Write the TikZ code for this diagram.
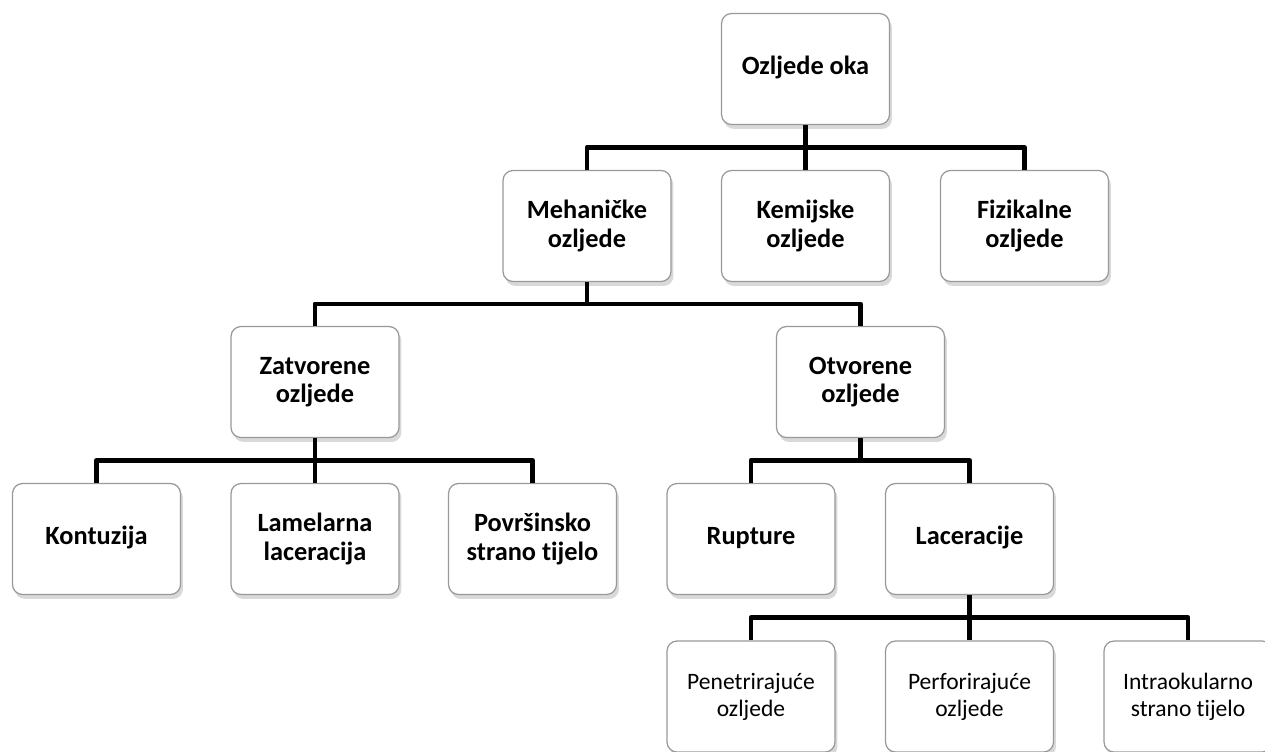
\documentclass[tikz,border=0pt]{standalone}
\usepackage{fontspec}
\setmainfont{Carlito}[Ligatures=NoCommon]
\usetikzlibrary{shadows}

\begin{document}
\begin{tikzpicture}[x=0.02cm, y=-0.02cm,
    kutija/.style={draw=gray!80, line width=0.7pt, fill=white, rounded corners=0.2cm,
        minimum width=3.36cm, minimum height=2.22cm, align=center,
        font=\fontsize{15}{16}\selectfont\bfseries,
        drop shadow={opacity=0.3, shadow xshift=0.05cm, shadow yshift=-0.09cm}},
    tanka/.style={kutija, font=\fontsize{13.4}{15.4}\selectfont},
    veza/.style={line width=2.8pt, line join=round}]
    % Okvir slike
    \useasboundingbox (0,0) rectangle (1265,751);
    \clip (0,0) rectangle (1265,751);
    % Razina 1
    \node[kutija] (oka) at (805.5,69) {Ozljede oka\strut};
    % Razina 2
    \node[kutija] (meh) at (587,226) {Mehaničke\\ozljede};
    \node[kutija] (kem) at (805.5,226) {Kemijske\\ozljede};
    \node[kutija] (fiz) at (1024.5,226) {Fizikalne\\ozljede};
    % Razina 3
    \node[kutija] (zat) at (315,382) {Zatvorene\\ozljede};
    \node[kutija] (otv) at (860.5,382) {Otvorene\\ozljede};
    % Razina 4
    \node[kutija] (kon) at (96.5,539) {Kontuzija\strut};
    \node[kutija] (lam) at (315,539) {Lamelarna\\laceracija};
    \node[kutija] (pov) at (532.5,539) {Površinsko\\strano tijelo};
    \node[kutija] (rup) at (751,539) {Rupture\strut};
    \node[kutija] (lac) at (969.5,539) {Laceracije\strut};
    % Razina 5
    \node[tanka] (pen) at (751,696.5) {Penetrirajuće\\ozljede};
    \node[tanka] (per) at (969.5,696.5) {Perforirajuće\\ozljede};
    \node[tanka] (int) at (1188,696.5) {Intraokularno\\strano tijelo};
    % Sabirnice
    \path (oka.south) -- (kem.north) coordinate[midway] (s1);
    \path (meh.south) -- (meh.south |- zat.north) coordinate[midway] (s2);
    \path (zat.south) -- (lam.north) coordinate[midway] (s3);
    \path (otv.south) -- (otv.south |- lac.north) coordinate[midway] (s4);
    \path (lac.south) -- (per.north) coordinate[midway] (s5);
    % Veze
    \draw[veza] (oka.south) -- (kem.north);
    \draw[veza] (meh.north) |- (s1) -| (fiz.north);
    \draw[veza] (meh.south) -- (s2);
    \draw[veza] (zat.north) |- (s2) -| (otv.north);
    \draw[veza] (zat.south) -- (lam.north);
    \draw[veza] (kon.north) |- (s3) -| (pov.north);
    \draw[veza] (otv.south) -- (s4);
    \draw[veza] (rup.north) |- (s4) -| (lac.north);
    \draw[veza] (lac.south) -- (per.north);
    \draw[veza] (pen.north) |- (s5) -| (int.north);
\end{tikzpicture}
\end{document}
